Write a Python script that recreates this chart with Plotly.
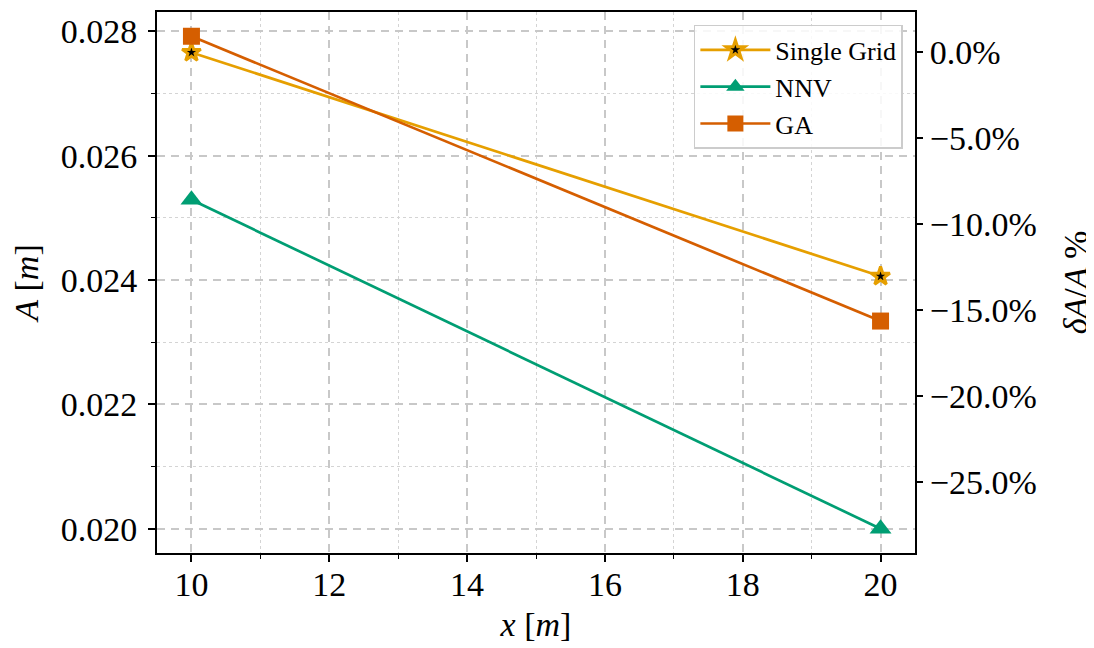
import plotly.graph_objects as go

# ---- data ----
x_vals = [10, 20]
single_grid = [0.02766, 0.02406]
nnv = [0.02529, 0.02000]
ga = [0.02792, 0.02334]
series_names = ["Single Grid", "NNV", "GA"]

y_range = [0.01961, 0.02831]
x_range = [9.5, 20.5]
ref_val = single_grid[0]
y2_range = [(y_range[0] - ref_val) / ref_val, (y_range[1] - ref_val) / ref_val]

FONT = "Liberation Serif"
C_SG = "#E69F00"
C_NNV = "#009E73"
C_GA = "#D55E00"

fig = go.Figure()
fig.add_trace(go.Scatter(
    x=x_vals, y=single_grid, name=series_names[0], mode="lines+markers",
    line=dict(color=C_SG, width=2.7),
    marker=dict(symbol="star", size=14, color="black", line=dict(color=C_SG, width=3)),
))
fig.add_trace(go.Scatter(
    x=x_vals, y=nnv, name=series_names[1], mode="lines+markers",
    line=dict(color=C_NNV, width=2.7),
    marker=dict(symbol="triangle-up", size=19, color=C_NNV),
))
fig.add_trace(go.Scatter(
    x=x_vals, y=ga, name=series_names[2], mode="lines+markers",
    line=dict(color=C_GA, width=2.7),
    marker=dict(symbol="square", size=17, color=C_GA),
))
# invisible trace to activate right axis
fig.add_trace(go.Scatter(
    x=x_vals, y=[(v - ref_val) / ref_val for v in single_grid], yaxis="y2",
    mode="lines", line=dict(width=0, color="rgba(0,0,0,0)"),
    showlegend=False, hoverinfo="skip",
))

grid_major = dict(showgrid=True, gridcolor="#c8c8c8", gridwidth=1.5, griddash="8px,6px")
minor = dict(showgrid=True, gridcolor="#d4d4d4", gridwidth=1.2, griddash="dot",
             ticks="outside", ticklen=4, tickwidth=1.2, tickcolor="black")

# page body adds an 8px offset; figure sized to fit the 1094x648 window
fig.update_layout(
    width=1086, height=640,
    margin=dict(l=149, r=179, t=4, b=95, autoexpand=False),
    paper_bgcolor="white", plot_bgcolor="white",
    font=dict(family=FONT, size=34, color="black"),
    showlegend=True,
    legend=dict(
        x=0.984, y=0.976, xanchor="right", yanchor="top",
        bgcolor="rgba(255,255,255,0.85)", bordercolor="#cccccc", borderwidth=1.5,
        font=dict(family=FONT, size=26, color="black"),
        tracegroupgap=0, itemwidth=70,
    ),
    xaxis=dict(
        range=x_range, tick0=10, dtick=2, ticks="outside", ticklen=7, tickwidth=1.5,
        tickcolor="black", showline=True, linecolor="black", linewidth=2, mirror=True,
        zeroline=False, ticklabelstandoff=-7, automargin=False,
        minor=dict(dtick=1, **minor), **grid_major,
        title=dict(text="<i>x</i> [<i>m</i>]", standoff=10, font=dict(size=34)),
    ),
    yaxis=dict(
        range=y_range, tick0=0.02, dtick=0.002, tickformat=".3f", ticks="outside",
        ticklen=7, tickwidth=1.5, tickcolor="black", showline=True, linecolor="black",
        linewidth=2, mirror=True, zeroline=False, ticklabelstandoff=4, automargin=False,
        minor=dict(dtick=0.001, **minor), **grid_major,
        title=dict(text="<i>A</i> [<i>m</i>]", standoff=12, font=dict(size=34)),
    ),
    yaxis2=dict(
        overlaying="y", side="right", range=y2_range, tick0=0, dtick=0.05,
        tickformat=".1%", ticks="outside", ticklen=7, tickwidth=1.5, tickcolor="black",
        showgrid=False, zeroline=False, showline=False, ticklabelstandoff=0,
        automargin=False,
        title=dict(text="<i>δA</i>/<i>A</i> %", standoff=30, font=dict(size=34)),
    ),
)

fig.write_html("out.html")
